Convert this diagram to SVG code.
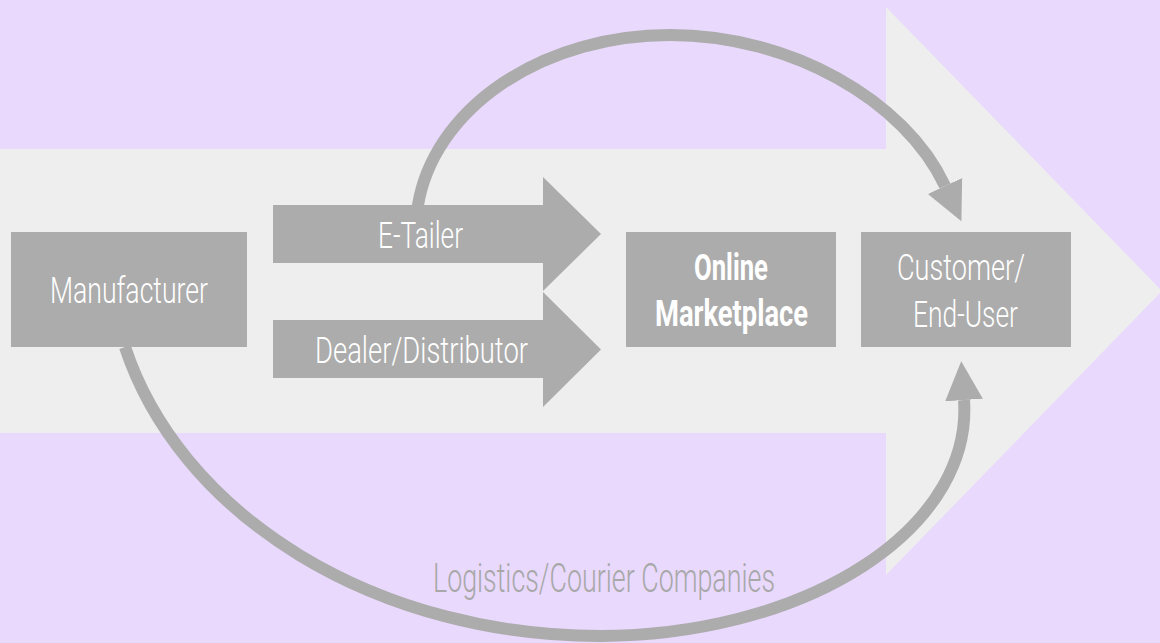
<svg xmlns="http://www.w3.org/2000/svg" width="1160" height="643" viewBox="0 0 1160 643">
  <style>
    .node { fill: #ACACAC; }
    .label { font-family: Roboto, "DejaVu Sans Condensed", "Liberation Sans", sans-serif; font-weight: 300; fill: #FFFFFF; font-size: 37px; }
    .bold { font-weight: bold; font-size: 37px; }
    .flow { fill: none; stroke: #ACACAC; stroke-width: 12; }
    .caption { font-family: Roboto, "DejaVu Sans Condensed", "Liberation Sans", sans-serif; font-weight: 300; fill: #A8A8A8; font-size: 41px; }
  </style>
  <defs>
    <marker id="head" markerUnits="userSpaceOnUse" markerWidth="40" markerHeight="40" refX="0" refY="17" orient="auto" viewBox="0 0 36 34">
      <path d="M0,0 L35,17 L0,34 Z" fill="#ACACAC"/>
    </marker>
  </defs>

  <!-- backdrop -->
  <rect x="0" y="0" width="1160" height="643" fill="#E9D9FD"/>

  <!-- large flow arrow behind everything -->
  <g id="backbone">
    <rect x="0" y="149" width="887" height="284" fill="#EEEEEE"/>
    <polygon points="886,7 1162,291 886,575" fill="#EEEEEE"/>
  </g>

  <g id="manufacturer">
    <rect class="node" x="11" y="232" width="236" height="115"/>
    <text class="label" x="50" y="303" textLength="158" lengthAdjust="spacingAndGlyphs">Manufacturer</text>
  </g>

  <g id="etailer">
    <polygon class="node" points="273,205 543,205 543,177 601,234 543,291 543,263 273,263"/>
    <text class="label" x="378" y="248" font-size="36" textLength="85" lengthAdjust="spacingAndGlyphs">E-Tailer</text>
  </g>

  <g id="dealer">
    <polygon class="node" points="273,320 543,320 543,292 601,349.5 543,407 543,378 273,378"/>
    <text class="label" x="315" y="363" textLength="213" lengthAdjust="spacingAndGlyphs">Dealer/Distributor</text>
  </g>

  <g id="marketplace">
    <rect class="node" x="626" y="232" width="210" height="115"/>
    <text class="label bold" x="694" y="280" textLength="74" lengthAdjust="spacingAndGlyphs">Online</text>
    <text class="label bold" x="655" y="326" textLength="153" lengthAdjust="spacingAndGlyphs">Marketplace</text>
  </g>

  <g id="customer">
    <rect class="node" x="861" y="232" width="210" height="115"/>
    <text class="label" x="897" y="280" textLength="128" lengthAdjust="spacingAndGlyphs">Customer/</text>
    <text class="label" x="913" y="327" textLength="105" lengthAdjust="spacingAndGlyphs">End-User</text>
  </g>

  <g id="connectors">
    <!-- e-tailer ships straight to the customer -->
    <path class="flow" d="M418,212 L418,205 A254,195 0 0 1 670,35 C790,35 905,100 945,186" marker-end="url(#head)"/>
    <!-- manufacturer ships via logistics to the customer -->
    <path class="flow" d="M125,347 A491,386 0 0 0 600,636 A366,226 0 0 0 964,400" marker-end="url(#head)"/>
  </g>

  <g id="logistics">
    <text class="caption" x="433" y="592" textLength="342" lengthAdjust="spacingAndGlyphs">Logistics/Courier Companies</text>
  </g>
</svg>
